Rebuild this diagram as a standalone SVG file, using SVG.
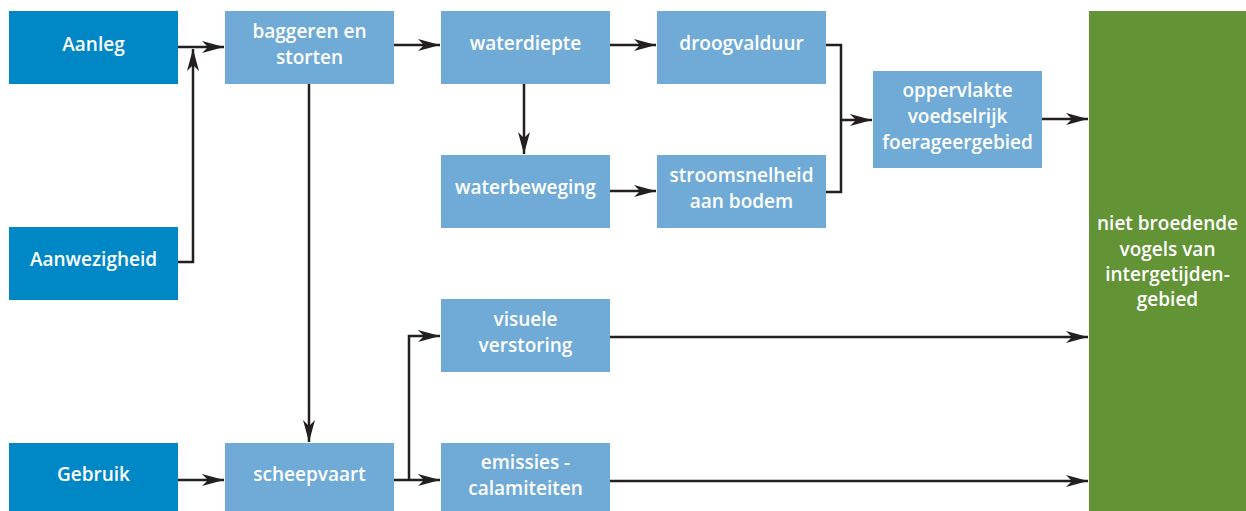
<svg xmlns="http://www.w3.org/2000/svg" width="1246" height="511" viewBox="0 0 1246 511">
<style>
.dark{fill:#0088C6}
.light{fill:#70ABD7}
.green{fill:#629335}
text{font-family:"Open Sans","Liberation Sans",sans-serif;font-weight:600;font-size:19px;fill:#fff;text-anchor:middle}
.c{fill:none;stroke:#231F20;stroke-width:2.5}
</style>
<defs>
<marker id="ah" markerWidth="24" markerHeight="12" refX="22" refY="6" orient="auto" markerUnits="userSpaceOnUse">
<path d="M0,0 L22,6 L0,12 L6,6 Z" fill="#231F20"/>
</marker>
</defs>
<g id="aanleg"><rect class="dark" x="9" y="11" width="169" height="73"/><text x="93.5" y="51">Aanleg</text></g>
<g id="aanwezigheid"><rect class="dark" x="9" y="227" width="169" height="73"/><text x="93.5" y="266">Aanwezigheid</text></g>
<g id="gebruik"><rect class="dark" x="9" y="443" width="169" height="68"/><text x="93.5" y="481">Gebruik</text></g>
<g id="baggeren"><rect class="light" x="225" y="11" width="169" height="73"/><text x="309.5" y="38">baggeren en</text><text x="309.5" y="64">storten</text></g>
<g id="scheepvaart"><rect class="light" x="225" y="443" width="169" height="68"/><text x="309.5" y="481">scheepvaart</text></g>
<g id="waterdiepte"><rect class="light" x="441" y="11" width="169" height="73"/><text x="525.5" y="50">waterdiepte</text></g>
<g id="waterbeweging"><rect class="light" x="441" y="155" width="169" height="73"/><text x="525.5" y="194">waterbeweging</text></g>
<g id="droogvalduur"><rect class="light" x="657" y="11" width="169" height="73"/><text x="741.5" y="50">droogvalduur</text></g>
<g id="stroomsnelheid"><rect class="light" x="657" y="155" width="169" height="73"/><text x="741.5" y="182">stroomsnelheid</text><text x="741.5" y="208">aan bodem</text></g>
<g id="oppervlakte"><rect class="light" x="873" y="71" width="169" height="97"/><text x="957.5" y="97">oppervlakte</text><text x="957.5" y="123">voedselrijk</text><text x="957.5" y="149">foerageergebied</text></g>
<g id="visuele"><rect class="light" x="441" y="299" width="169" height="73"/><text x="525.5" y="326">visuele</text><text x="525.5" y="352">verstoring</text></g>
<g id="emissies"><rect class="light" x="441" y="443" width="169" height="68"/><text x="525.5" y="469">emissies -</text><text x="525.5" y="495">calamiteiten</text></g>
<g id="vogels"><rect class="green" x="1089" y="11" width="157" height="500"/><text x="1167.5" y="230">niet broedende</text><text x="1167.5" y="256">vogels van</text><text x="1167.5" y="281">intergetijden-</text><text x="1167.5" y="306">gebied</text></g>
<g id="connectors">
<path class="c" d="M178,47 H224" marker-end="url(#ah)"/>
<path class="c" d="M178,262 H193 V49" marker-end="url(#ah)"/>
<path class="c" d="M394,45 H440" marker-end="url(#ah)"/>
<path class="c" d="M309,84 V442" marker-end="url(#ah)"/>
<path class="c" d="M610,45 H656" marker-end="url(#ah)"/>
<path class="c" d="M524,84 V154" marker-end="url(#ah)"/>
<path class="c" d="M610,191 H656" marker-end="url(#ah)"/>
<path class="c" d="M826,45 H841 V192 H826"/>
<path class="c" d="M841,120 H872" marker-end="url(#ah)"/>
<path class="c" d="M1042,119 H1088" marker-end="url(#ah)"/>
<path class="c" d="M178,480 H224" marker-end="url(#ah)"/>
<path class="c" d="M394,480 H440" marker-end="url(#ah)"/>
<path class="c" d="M409,480 V336 H440" marker-end="url(#ah)"/>
<path class="c" d="M610,337 H1088" marker-end="url(#ah)"/>
<path class="c" d="M610,481 H1088" marker-end="url(#ah)"/>
</g>
</svg>
